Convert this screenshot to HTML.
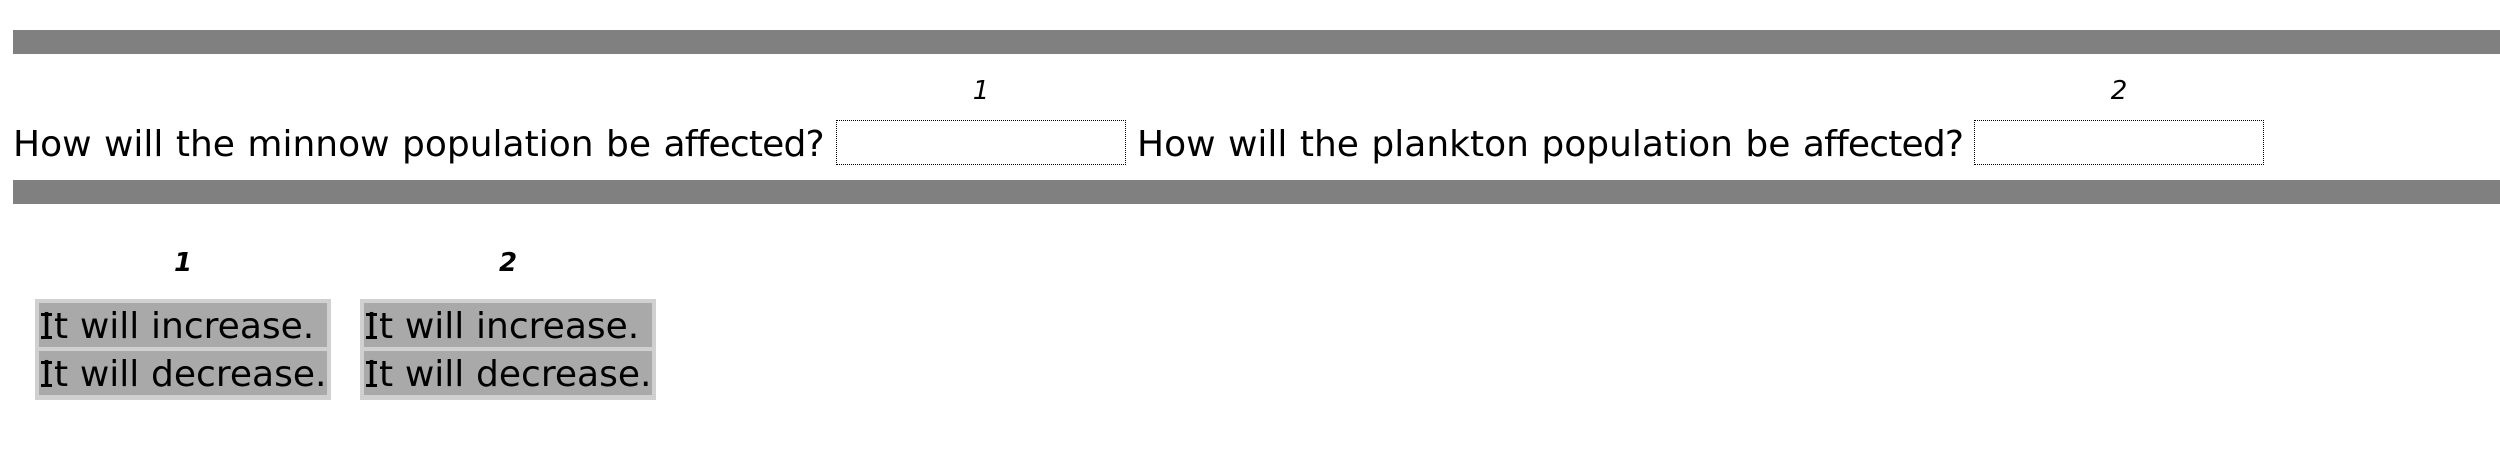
<!DOCTYPE html>
<html>
<head>
<meta charset="utf-8">
<style>
html,body{margin:0;padding:0;background:#fff;width:2500px;height:466px;overflow:hidden}
body{position:relative;font-family:"DejaVu Sans",sans-serif;color:#000}
.bar{position:absolute;left:13px;width:2487px;height:24px;background:#808080}
.t{position:absolute;font-size:36px;line-height:44px;white-space:nowrap;word-spacing:1px}
.t span{letter-spacing:-0.8px}
.inp{position:absolute;width:288px;height:43px;border:1px dotted #000;top:120px}
.n{position:absolute;font-size:26px;line-height:30px;font-style:italic;width:100px;text-align:center}
.b{font-weight:bold}
.box{position:absolute;top:299px;width:296px;height:101px;background:#d0d0d0}
.opt{position:absolute;left:4px;width:288px;height:44px;background:#a9a9a9;font-size:36px;line-height:48px;white-space:nowrap;overflow:hidden;word-spacing:0.3px}
.i{display:inline-block;position:relative;width:15px;height:48px;text-align:center;vertical-align:top}
.i:before,.i:after{content:"";position:absolute;left:2px;width:11px;height:3px;background:#000}
.i:before{top:10px}
.i:after{top:33px}
</style>
</head>
<body>
<div class="bar" style="top:30px"></div>
<div class="bar" style="top:180px"></div>
<div class="n" style="left:931px;top:76px">1</div>
<div class="n" style="left:2069px;top:76px">2</div>
<div class="t" style="left:13px;top:123px">How will the minnow population be <span>affected?</span></div>
<div class="inp" style="left:836px"></div>
<div class="t" style="left:1137px;top:123px">How will the plankton population be <span>affected?</span></div>
<div class="inp" style="left:1974px"></div>
<div class="n b" style="left:133px;top:248px">1</div>
<div class="n b" style="left:458px;top:248px">2</div>
<div class="box" style="left:35px">
  <div class="opt" style="top:4px"><span class="i">I</span>t will increase.</div>
  <div class="opt" style="top:52px"><span class="i">I</span>t will decrease.</div>
</div>
<div class="box" style="left:360px">
  <div class="opt" style="top:4px"><span class="i">I</span>t will increase.</div>
  <div class="opt" style="top:52px"><span class="i">I</span>t will decrease.</div>
</div>
</body>
</html>
